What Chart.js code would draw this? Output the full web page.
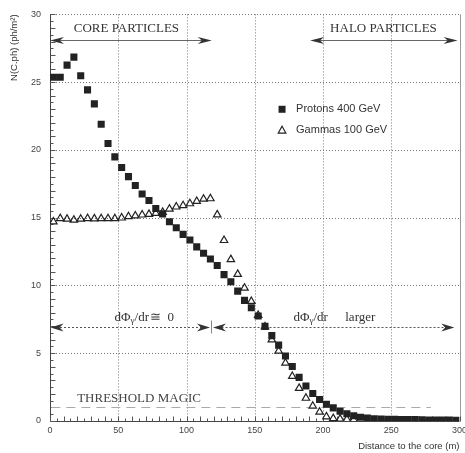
<!DOCTYPE html>
<html>
<head>
<meta charset="utf-8">
<script src="https://cdn.jsdelivr.net/npm/chart.js@4.4.1/dist/chart.umd.min.js"></script>
<style>
  html, body { margin: 0; padding: 0; background: #fff; }
  #wrap { width: 465px; height: 453px; }
</style>
</head>
<body>
<div id="wrap"><canvas id="c" width="465" height="453"></canvas></div>
<script>
// distance bins (m) and photon densities
const protonX = [2.5, 7.5, 12.5, 17.5, 22.5, 27.5, 32.5, 37.5, 42.5, 47.5,
  52.5, 57.5, 62.5, 67.5, 72.5, 77.5, 82.5, 87.5, 92.5, 97.5,
  102.5, 107.5, 112.5, 117.5, 122.5, 127.5, 132.5, 137.5, 142.5, 147.5,
  152.5, 157.5, 162.5, 167.5, 172.5, 177.5, 182.5, 187.5, 192.5, 197.5,
  202.5, 207.5, 212.5, 217.5, 222.5, 227.5, 232.5, 237.5, 242.5, 247.5,
  252.5, 257.5, 262.5, 267.5, 272.5, 277.5, 282.5, 287.5, 292.5, 297.5];
const protonY = [25.36, 25.36, 26.26, 26.85, 25.48, 24.43, 23.4, 21.89, 20.47, 19.49,
  18.71, 18.03, 17.37, 16.75, 16.27, 15.68, 15.28, 14.7, 14.26, 13.77,
  13.35, 12.85, 12.38, 11.95, 11.47, 10.8, 10.28, 9.58, 8.9, 8.36,
  7.75, 6.98, 6.3, 5.6, 4.79, 4.02, 3.22, 2.58, 2.03, 1.59,
  1.24, 0.97, 0.72, 0.54, 0.39, 0.28, 0.22, 0.17, 0.15, 0.13,
  0.12, 0.11, 0.1, 0.1, 0.09, 0.08, 0.08, 0.07, 0.07, 0.06];

const gammaX = [2.5, 7.5, 12.5, 17.5, 22.5, 27.5, 32.5, 37.5, 42.5, 47.5,
  52.5, 57.5, 62.5, 67.5, 72.5, 77.5, 82.5, 87.5, 92.5, 97.5,
  102.5, 107.5, 112.5, 117.5, 122.5, 127.5, 132.5, 137.5, 142.5, 147.5,
  152.5, 157.5, 162.5, 167.5, 172.5, 177.5, 182.5, 187.5, 192.5, 197.5,
  202.5, 207.5, 212.5, 217.5, 222.5];
const gammaY = [14.7, 14.95, 14.9, 14.83, 14.9, 14.95, 14.93, 14.94, 14.94, 14.94,
  14.99, 15.09, 15.14, 15.21, 15.26, 15.33, 15.41, 15.65, 15.8, 15.9,
  16.04, 16.21, 16.38, 16.41, 15.22, 13.33, 11.92, 10.83, 9.81, 8.83,
  7.8, 6.95, 6.0, 5.16, 4.28, 3.3, 2.42, 1.69, 1.1, 0.66,
  0.32, 0.19, 0.15, 0.12, 0.1];

const seriesNames = ['Protons 400 GeV', 'Gammas 100 GeV'];
const xTicks = [0, 50, 100, 150, 200, 250, 300];
const yTicks = [0, 5, 10, 15, 20, 25, 30];

// annotation anchors in data units
const coreRange = [0, 118.5];
const haloRange = [190.6, 298.6];
const rangeArrowY = 28.1;
const slopeArrowY = 6.9;
const slopeSplit = 117.8;
const thresholdY = 1.05;
const thresholdEnd = 279;

const SANS = '"Liberation Sans", Arial, sans-serif';
const SERIF = '"Liberation Serif", "Times New Roman", serif';
const INK = '#222';

function toPoints(xs, ys) {
  return xs.map((x, i) => ({ x: x, y: ys[i] }));
}

function arrowHead(ctx, tipX, tipY, dir, len, half) {
  ctx.beginPath();
  ctx.moveTo(tipX, tipY);
  ctx.lineTo(tipX - dir * len, tipY - half);
  ctx.lineTo(tipX - dir * len * 0.7, tipY);
  ctx.lineTo(tipX - dir * len, tipY + half);
  ctx.closePath();
  ctx.fill();
}

function drawPhiText(ctx, x, y) {
  ctx.font = '13px ' + SERIF;
  ctx.textBaseline = 'middle';
  ctx.textAlign = 'left';
  ctx.fillText('dΦ', x, y);
  let cx = x + ctx.measureText('dΦ').width;
  ctx.font = '9px ' + SERIF;
  ctx.fillText('γ', cx, y + 3);
  cx += ctx.measureText('γ').width;
  ctx.font = '13px ' + SERIF;
  ctx.fillText('/dr', cx, y);
  cx += ctx.measureText('/dr').width;
  return cx;
}

const framePlugin = {
  id: 'frame',
  beforeDatasetsDraw(chart) {
    const ctx = chart.ctx;
    const xs = chart.scales.x, ys = chart.scales.y;
    const a = chart.chartArea;
    ctx.save();
    // dotted grid
    ctx.strokeStyle = '#777';
    ctx.lineWidth = 1;
    ctx.setLineDash([1, 2]);
    xTicks.forEach(v => {
      if (v === 0 || v === 300) return;
      const px = Math.round(xs.getPixelForValue(v)) + 0.5;
      ctx.beginPath(); ctx.moveTo(px, a.top); ctx.lineTo(px, a.bottom); ctx.stroke();
    });
    yTicks.forEach(v => {
      if (v === 0) return;
      const py = Math.round(ys.getPixelForValue(v)) + 0.5;
      ctx.beginPath(); ctx.moveTo(a.left, py); ctx.lineTo(a.right, py); ctx.stroke();
    });
    ctx.setLineDash([]);
    // right border
    ctx.strokeStyle = '#999';
    const rx = Math.round(a.right) + 0.5;
    ctx.beginPath(); ctx.moveTo(rx, a.top); ctx.lineTo(rx, a.bottom); ctx.stroke();
    // axes
    ctx.strokeStyle = '#444';
    const lx = Math.round(a.left) + 0.5, by = Math.round(a.bottom) + 0.5;
    ctx.beginPath(); ctx.moveTo(lx, a.top); ctx.lineTo(lx, by); ctx.lineTo(a.right, by); ctx.stroke();
    // minor ticks
    ctx.strokeStyle = '#555';
    for (let v = 0; v <= 300; v += 5) {
      const px = Math.round(xs.getPixelForValue(v)) + 0.5;
      const len = v % 10 === 0 ? 5 : 3;
      ctx.beginPath(); ctx.moveTo(px, by); ctx.lineTo(px, by - len); ctx.stroke();
    }
    for (let v = 0; v <= 30; v += 0.5) {
      const py = Math.round(ys.getPixelForValue(v)) + 0.5;
      const len = v % 1 === 0 ? 5 : 3;
      ctx.beginPath(); ctx.moveTo(lx, py); ctx.lineTo(lx + len, py); ctx.stroke();
    }

    // threshold line
    ctx.strokeStyle = '#aaa';
    ctx.setLineDash([9, 6]);
    const ty = Math.round(ys.getPixelForValue(thresholdY)) + 0.5;
    ctx.beginPath(); ctx.moveTo(xs.getPixelForValue(1), ty); ctx.lineTo(xs.getPixelForValue(thresholdEnd), ty); ctx.stroke();
    ctx.setLineDash([]);

    // core / halo arrows
    const ay = Math.round(ys.getPixelForValue(rangeArrowY)) + 0.5;
    [coreRange, haloRange].forEach(r => {
      const x0 = xs.getPixelForValue(r[0]), x1 = xs.getPixelForValue(r[1]);
      ctx.strokeStyle = '#666';
      ctx.beginPath(); ctx.moveTo(x0 + 4, ay); ctx.lineTo(x1 - 4, ay); ctx.stroke();
      ctx.fillStyle = '#333';
      arrowHead(ctx, x0, ay, -1, 14, 3.5);
      arrowHead(ctx, x1, ay, 1, 14, 3.5);
    });

    // slope arrows (dashed)
    const sy = Math.round(ys.getPixelForValue(slopeArrowY)) + 0.5;
    const sx = Math.round(xs.getPixelForValue(slopeSplit)) + 0.5;
    ctx.strokeStyle = '#555';
    ctx.setLineDash([2, 2]);
    ctx.beginPath(); ctx.moveTo(a.left + 6, sy); ctx.lineTo(sx - 6, sy); ctx.stroke();
    ctx.beginPath(); ctx.moveTo(sx + 6, sy); ctx.lineTo(a.right - 6, sy); ctx.stroke();
    ctx.setLineDash([]);
    ctx.fillStyle = '#333';
    arrowHead(ctx, a.left + 0.5, sy, -1, 13, 4);
    arrowHead(ctx, sx - 1.5, sy, 1, 13, 4);
    arrowHead(ctx, sx + 1.5, sy, -1, 13, 4);
    arrowHead(ctx, xs.getPixelForValue(296.2), sy, 1, 13, 4);
    ctx.strokeStyle = '#888';
    ctx.beginPath(); ctx.moveTo(sx, sy - 7); ctx.lineTo(sx, sy + 6); ctx.stroke();
    ctx.restore();
  },
  afterDatasetsDraw(chart) {
    const ctx = chart.ctx;
    const xs = chart.scales.x, ys = chart.scales.y;
    ctx.save();
    ctx.fillStyle = '#333';
    ctx.font = '13px ' + SERIF;
    ctx.textBaseline = 'middle';
    ctx.textAlign = 'center';
    ctx.fillText('CORE PARTICLES', xs.getPixelForValue(56), ys.getPixelForValue(28.95));
    ctx.fillText('HALO PARTICLES', xs.getPixelForValue(244.3), ys.getPixelForValue(28.95));
    ctx.textAlign = 'left';
    ctx.fillStyle = '#444';
    ctx.fillText('THRESHOLD MAGIC', xs.getPixelForValue(19.9), ys.getPixelForValue(1.65));

    ctx.fillStyle = '#333';
    const ty = ys.getPixelForValue(7.6);
    const e1 = drawPhiText(ctx, xs.getPixelForValue(47.3), ty);
    ctx.font = '13px ' + SERIF;
    ctx.fillText('≅  0', e1 + 1, ty);
    drawPhiText(ctx, xs.getPixelForValue(178.4), ty);
    ctx.fillText('larger', xs.getPixelForValue(216.3), ty);

    // legend
    const lx = xs.getPixelForValue(170);
    const ly1 = ys.getPixelForValue(23), ly2 = ys.getPixelForValue(21.45);
    ctx.fillStyle = INK;
    ctx.fillRect(lx - 3.5, ly1 - 3.5, 7, 7);
    ctx.strokeStyle = INK;
    ctx.lineWidth = 1.2;
    ctx.beginPath();
    ctx.moveTo(lx, ly2 - 4);
    ctx.lineTo(lx + 3.8, ly2 + 2.8);
    ctx.lineTo(lx - 3.8, ly2 + 2.8);
    ctx.closePath();
    ctx.stroke();
    ctx.fillStyle = '#333';
    ctx.font = '11px ' + SANS;
    ctx.fillText(seriesNames[0], lx + 14, ly1);
    ctx.fillText(seriesNames[1], lx + 14, ly2);
    ctx.restore();
  }
};

new Chart(document.getElementById('c').getContext('2d'), {
  type: 'scatter',
  data: {
    datasets: [{
      label: seriesNames[1],
      data: toPoints(gammaX, gammaY),
      pointStyle: 'triangle',
      pointRadius: 4.3,
      backgroundColor: 'rgba(0,0,0,0)',
      borderColor: INK,
      borderWidth: 1.2
    }, {
      label: seriesNames[0],
      data: toPoints(protonX, protonY),
      pointStyle: 'rect',
      pointRadius: 5,
      backgroundColor: INK,
      borderWidth: 0
    }]
  },
  options: {
    responsive: false,
    animation: false,
    events: [],
    layout: { padding: { top: 13, right: 4, left: 0, bottom: 0 } },
    plugins: { legend: { display: false }, tooltip: { enabled: false } },
    scales: {
      x: {
        type: 'linear', min: 0, max: 300,
        afterBuildTicks: s => { s.ticks = xTicks.map(v => ({ value: v })); },
        afterFit: s => { s.height = 32; s.paddingLeft = 0; s.paddingRight = 0; },
        grid: { display: false, drawTicks: false },
        border: { display: false },
        ticks: { color: '#444', font: { family: SANS, size: 9 }, padding: 4, maxRotation: 0 },
        title: { display: true, text: 'Distance to the core (m)', align: 'end', color: '#333',
          font: { family: SANS, size: 9.5 }, padding: { top: 0, bottom: 1 } }
      },
      y: {
        type: 'linear', min: 0, max: 30,
        afterBuildTicks: s => { s.ticks = yTicks.map(v => ({ value: v })); },
        afterFit: s => { s.width = 50; },
        grid: { display: false, drawTicks: false },
        border: { display: false },
        ticks: { color: '#444', font: { family: SANS, size: 9 }, padding: 9 },
        title: { display: true, text: 'N(C.ph) (ph/m²)', align: 'end', color: '#333',
          font: { family: SANS, size: 9.5 }, padding: { top: 9, bottom: 0 } }
      }
    }
  },
  plugins: [framePlugin]
});
</script>
</body>
</html>
